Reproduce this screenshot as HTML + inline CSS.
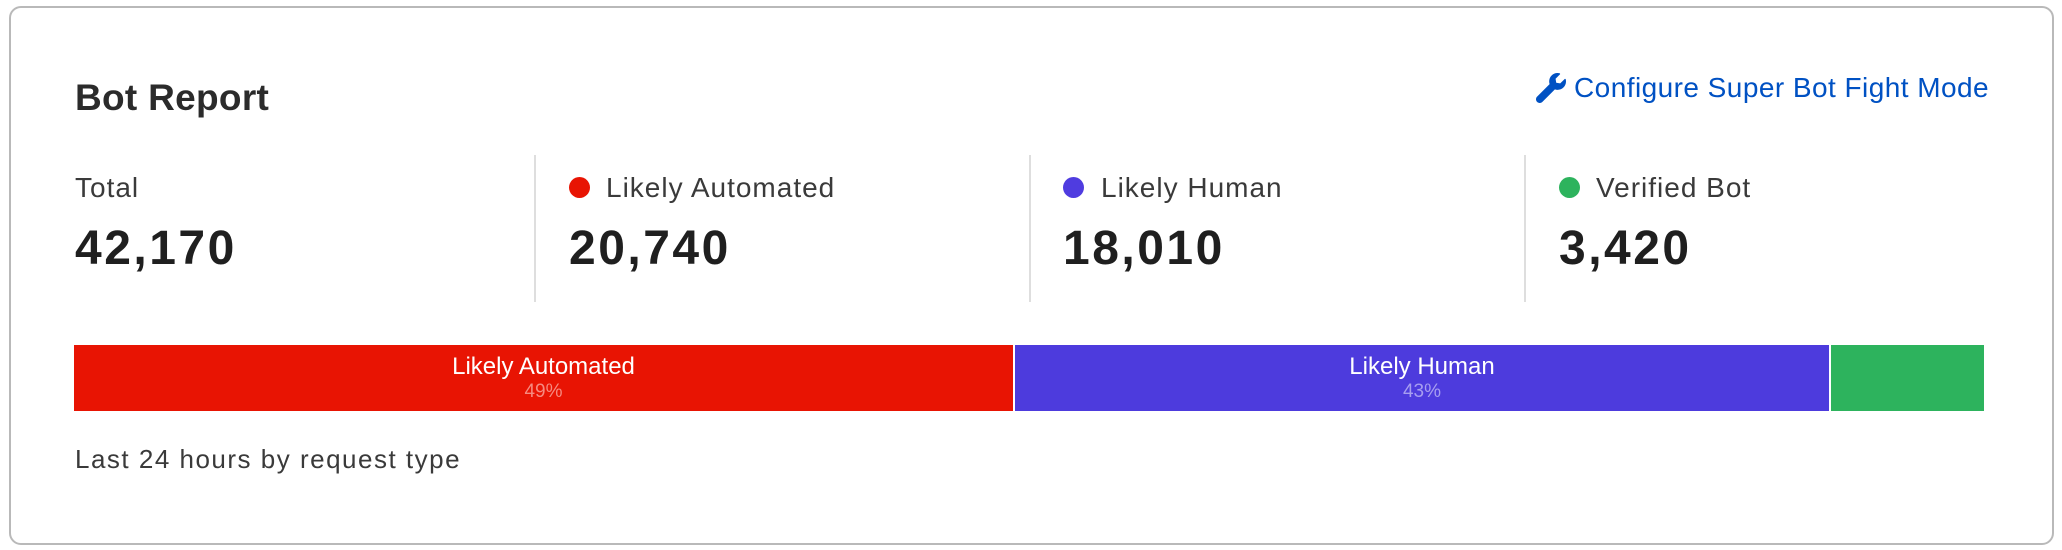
<!DOCTYPE html>
<html><head><style>
body{margin:0;width:2062px;height:550px;background:#fff;font-family:"Liberation Sans",sans-serif;position:relative;overflow:hidden}
.card{position:absolute;left:9px;top:6px;width:2041px;height:535px;border:2px solid #b9b9b9;border-radius:12px}
.a{position:absolute;white-space:nowrap}
.title{left:75px;top:77px;font-size:37px;font-weight:bold;color:#2b2b2b;letter-spacing:0.3px}
.lbl{font-size:28px;color:#3a3a3a;top:172px;letter-spacing:1px}
.num{font-size:48px;font-weight:bold;color:#1f1f1f;top:221px;letter-spacing:2.5px}
.div{position:absolute;top:155px;width:2px;height:147px;background:#dedede}
.dot{position:absolute;top:177px;width:21px;height:21px;border-radius:50%}
.seg{position:absolute;top:345px;height:66px}
.sl{position:absolute;width:100%;text-align:center;color:#fff}
</style></head><body>
<div class="card"></div>
<div class="a title">Bot Report</div>
<svg class="a" style="left:1536px;top:73px" width="30" height="30" viewBox="0 0 512 512"><path fill="#0051c3" d="M507.7 109.1c-2.2-9-13.5-12.1-20.1-5.5l-74.4 74.4-67.9-11.3-11.3-67.9 74.4-74.4c6.6-6.6 3.4-17.9-5.7-20.2-47.4-11.7-99.6.9-136.6 37.9-39.6 39.6-50.5 97.1-34.1 147L18.7 402.8c-25 25-25 65.5 0 90.5s65.5 25 90.5 0l213.2-213.2c50 16.6 107.5 5.7 147.4-34.2 37.1-37.1 49.7-89.3 37.9-136.8z"/></svg>
<div class="a" style="left:1574px;top:72px;font-size:28px;color:#0051c3;letter-spacing:0.45px">Configure Super Bot Fight Mode</div>

<div class="a lbl" style="left:75px">Total</div>
<div class="a num" style="left:75px">42,170</div>
<div class="div" style="left:534px"></div>
<div class="dot" style="left:569px;background:#e81403"></div>
<div class="a lbl" style="left:606px">Likely Automated</div>
<div class="a num" style="left:569px">20,740</div>
<div class="div" style="left:1029px"></div>
<div class="dot" style="left:1063px;background:#4f3ce0"></div>
<div class="a lbl" style="left:1101px">Likely Human</div>
<div class="a num" style="left:1063px">18,010</div>
<div class="div" style="left:1524px"></div>
<div class="dot" style="left:1559px;background:#2db35d"></div>
<div class="a lbl" style="left:1596px">Verified Bot</div>
<div class="a num" style="left:1559px">3,420</div>

<div class="seg" style="left:74px;width:939px;background:#e81403">
<div class="sl" style="top:8px;font-size:24px">Likely Automated</div>
<div class="sl" style="top:36px;font-size:19px;color:#f68a80">49%</div></div>
<div class="seg" style="left:1015px;width:814px;background:#4d3bdd">
<div class="sl" style="top:8px;font-size:24px">Likely Human</div>
<div class="sl" style="top:36px;font-size:19px;color:#a79ef0">43%</div></div>
<div class="seg" style="left:1831px;width:153px;background:#2db35d"></div>

<div class="a" style="left:75px;top:444px;font-size:26px;color:#3a3a3a;letter-spacing:1.5px">Last 24 hours by request type</div>
</body></html>
